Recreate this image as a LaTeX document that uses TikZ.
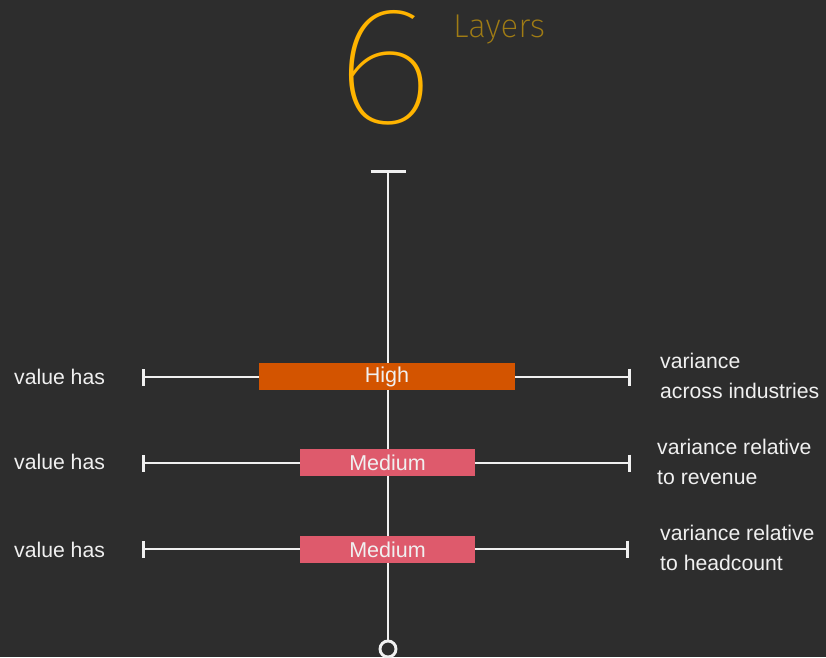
\documentclass[tikz,border=0pt]{standalone}
\usepackage{fontspec}
\setmainfont{Liberation Sans}
\newfontfamily\thinfont{Fira Sans Thin}
\newfontfamily\lightfont{Fira Sans ExtraLight}
\usetikzlibrary{arrows.meta}
\definecolor{bgdark}{HTML}{2D2D2D}
\definecolor{inkwhite}{HTML}{F0F0F0}
\definecolor{sixgold}{HTML}{FFB400}
\definecolor{layergold}{HTML}{A07C14}
\definecolor{highorange}{HTML}{D35400}
\definecolor{medpink}{HTML}{DE5A6C}
\tikzset{
  rule/.style={draw=inkwhite, line width=2.9pt},
  endbar/.style={rule, {Bar[width=17pt,line width=2.9pt]}-{Bar[width=17pt,line width=2.9pt]}},
  levelbox/.style={minimum height=27pt, inner sep=0pt, text=inkwhite,
    font=\fontsize{21.5}{24}\selectfont},
  sidetext/.style={inner sep=0pt, text=inkwhite, align=left,
    font=\fontsize{21.2}{30}\selectfont},
}
\begin{document}
\begin{tikzpicture}[x=1pt,y=-1pt]
  \fill[bgdark] (0,0) rectangle (826,657);
  \useasboundingbox (0,0) rectangle (826,657);

  % title
  \node[inner sep=0pt, text=sixgold, xscale=1.17,
    font=\thinfont\fontsize{168}{168}\selectfont] (six) at (385,68) {6};
  \node[inner sep=0pt, anchor=base west, text=layergold,
    font=\lightfont\fontsize{33}{33}\selectfont] (layers) at (453,37) {Layers};

  % spine
  \coordinate (top) at (388,170);
  \node[circle, draw=inkwhite, line width=2.9pt, minimum size=16pt, inner sep=0pt,
    fill=bgdark] (foot) at (388,649) {};
  \draw[rule, {Bar[width=35pt,line width=2.9pt]}-] (top) -- (foot.north);

  % scale rows
  \coordinate (l1) at (142,377); \coordinate (r1) at (631,377);
  \coordinate (l2) at (142,463); \coordinate (r2) at (631,463);
  \coordinate (l3) at (142,549); \coordinate (r3) at (629,549);
  \draw[endbar] (l1) -- (r1);
  \draw[endbar] (l2) -- (r2);
  \draw[endbar] (l3) -- (r3);

  \node[levelbox, fill=highorange, minimum width=256pt] (high) at (387,376.5) {High};
  \node[levelbox, fill=medpink, minimum width=175pt] (med1) at (387.5,462.5) {Medium};
  \node[levelbox, fill=medpink, minimum width=175pt] (med2) at (387.5,549.5) {Medium};

  % side labels
  \node[sidetext, anchor=west] (v1) at (14,377) {value has};
  \node[sidetext, anchor=west] (v2) at (14,462) {value has};
  \node[sidetext, anchor=west] (v3) at (14,550) {value has};
  \node[sidetext, anchor=west] (d1) at (660,376) {variance\\across industries};
  \node[sidetext, anchor=west] (d2) at (657,461.5) {variance relative\\to revenue};
  \node[sidetext, anchor=west] (d3) at (660,547.5) {variance relative\\to headcount};
\end{tikzpicture}
\end{document}
